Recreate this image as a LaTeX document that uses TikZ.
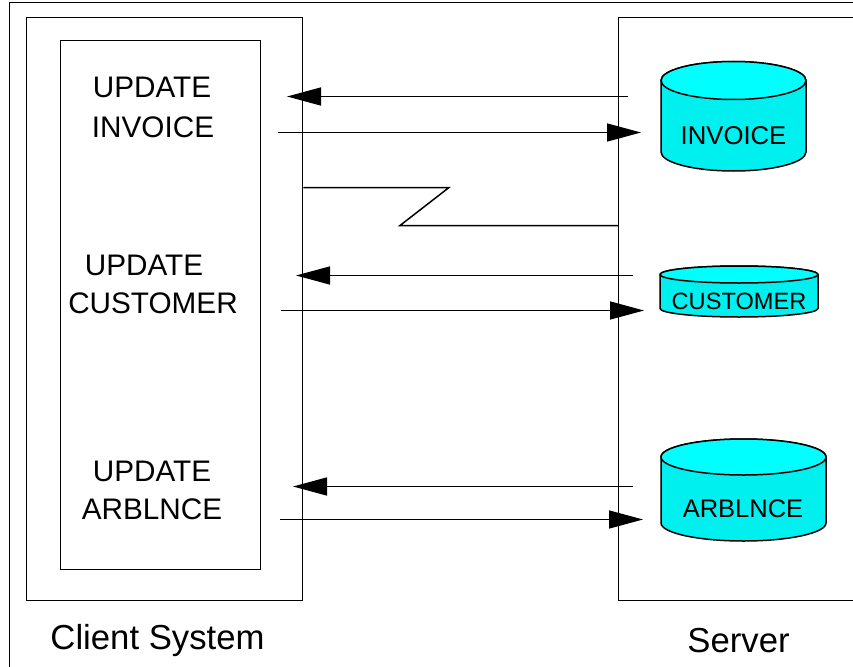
\documentclass[tikz,border=0pt]{standalone}
\usepackage{fontspec}
\setmainfont{Liberation Sans}
\usetikzlibrary{arrows.meta}
\definecolor{cyltop}{HTML}{00FFFF}
\definecolor{cylbody}{HTML}{00EFEF}
\tikzset{
  x=1pt,y=1pt,
  boxnode/.style={draw,rectangle,anchor=north west,inner sep=0pt,line width=1.3pt},
  flow/.style={-{Triangle[length=34pt,width=18pt]},line width=1.5pt},
  link/.style={line width=1.5pt},
  lbl/.style={anchor=base,inner sep=0pt,font=\fontsize{29.7}{30}\selectfont},
  caption/.style={anchor=base,inner sep=0pt,font=\fontsize{34.7}{35}\selectfont},
  dblbl/.style={anchor=base,inner sep=0pt},
  cylline/.style={draw=black,line width=1.5pt,line join=round}
}
% left x, right x, centre y of top ellipse, end of straight side, y radius
\newcommand{\dbdrum}[5]{%
  \pgfmathsetmacro{\drumrx}{(#2-#1)/2}%
  \path[cylline,fill=cylbody] (#1,#3) -- (#1,#4)
    arc[start angle=180,end angle=360,x radius=\drumrx,y radius=#5]
    -- (#2,#3) arc[start angle=0,end angle=180,x radius=\drumrx,y radius=#5] -- cycle;
  \path[cylline,fill=cyltop] (#1,#3)
    arc[start angle=180,end angle=540,x radius=\drumrx,y radius=#5] -- cycle;
}
\begin{document}
\begin{tikzpicture}
\useasboundingbox (0,0) rectangle (853,-666);
\clip (0,0) rectangle (853,-666);
\node[boxnode,minimum width=880pt,minimum height=700pt] (frame) at (9,-2) {};
\node[boxnode,minimum width=276pt,minimum height=583pt] (client) at (26,-17) {};
\node[boxnode,minimum width=200pt,minimum height=529pt] (inner) at (60,-40) {};
\node[boxnode,minimum width=260pt,minimum height=583pt] (server) at (618,-17) {};

\dbdrum{661}{806}{-80.5}{-152}{19}
\dbdrum{660}{818}{-274.5}{-308.5}{8.5}
\dbdrum{661}{826}{-457}{-523}{18}

\node[lbl] (u1) at (152,-98) {UPDATE};
\node[lbl] (i1) at (153,-137) {INVOICE};
\node[lbl] (u2) at (144,-275.5) {UPDATE};
\node[lbl] (c2) at (153,-313) {CUSTOMER};
\node[lbl] (u3) at (152,-481) {UPDATE};
\node[lbl] (a3) at (152,-519) {ARBLNCE};
\node[dblbl,font=\fontsize{25.7}{26}\selectfont] (dinv) at (733.5,-144) {INVOICE};
\node[dblbl,font=\fontsize{23.6}{24}\selectfont] (dcus) at (739,-309) {CUSTOMER};
\node[dblbl,font=\fontsize{25.5}{26}\selectfont] (darb) at (743,-517) {ARBLNCE};
\node[caption] (cap1) at (157.5,-649) {Client System};
\node[caption] (cap2) at (738.5,-652.5) {Server};

\coordinate (a1s) at (628,-96.5);   \coordinate (a1e) at (287,-96.5);
\coordinate (a2s) at (278,-132.5);  \coordinate (a2e) at (641,-132.5);
\coordinate (a3s) at (633,-275.5);  \coordinate (a3e) at (296,-275.5);
\coordinate (a4s) at (281,-310.5);  \coordinate (a4e) at (644,-310.5);
\coordinate (a5s) at (633,-486.5);  \coordinate (a5e) at (293,-486.5);
\coordinate (a6s) at (280,-519.5);  \coordinate (a6e) at (643,-519.5);
\draw[flow] (a1s) -- (a1e);
\draw[flow] (a2s) -- (a2e);
\draw[flow] (a3s) -- (a3e);
\draw[flow] (a4s) -- (a4e);
\draw[flow] (a5s) -- (a5e);
\draw[flow] (a6s) -- (a6e);

\coordinate (z1) at (449,-187.5);
\coordinate (z2) at (400,-225.5);
\draw[link] (client.east |- z1) -- (z1) -- (z2) -- (server.west |- z2);
\end{tikzpicture}
\end{document}
